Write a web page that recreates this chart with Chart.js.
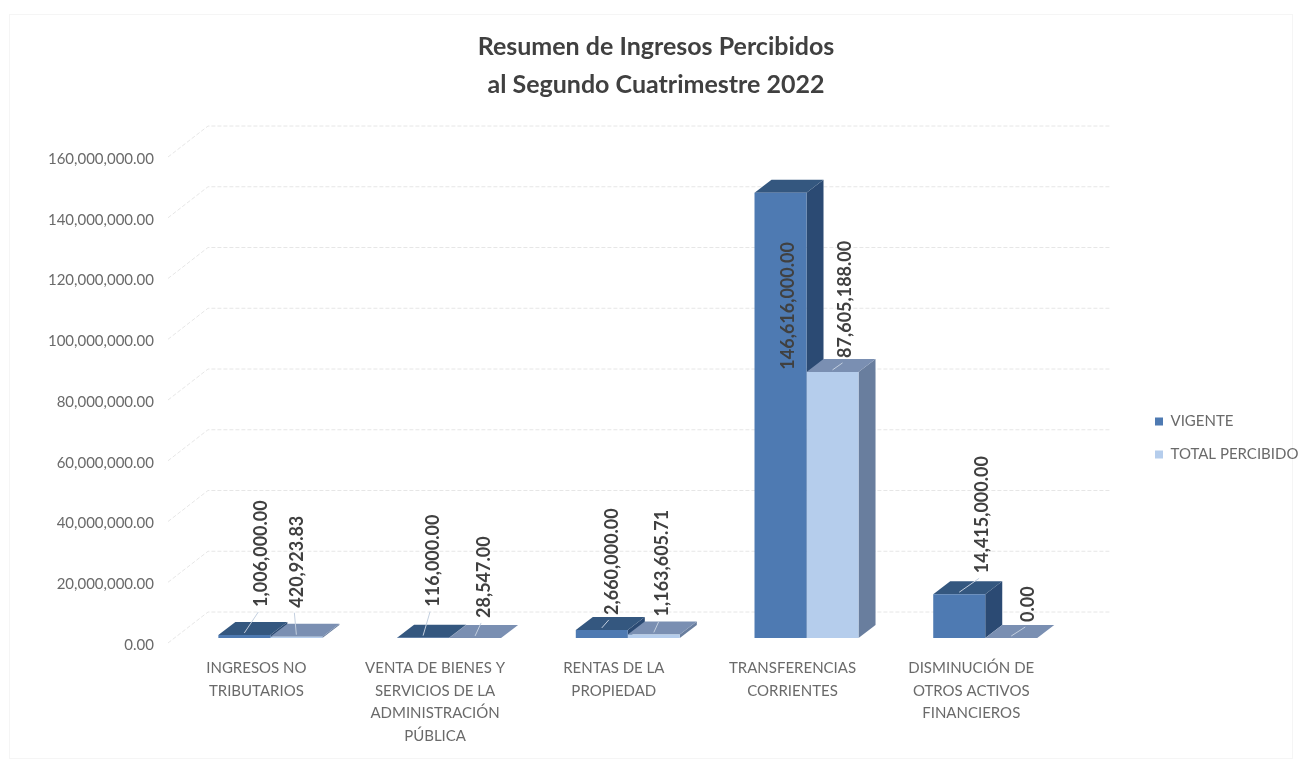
<!DOCTYPE html>
<html>
<head>
<meta charset="utf-8">
<title>Resumen de Ingresos Percibidos</title>
<script src="https://cdn.jsdelivr.net/npm/chart.js@4/dist/chart.umd.min.js"></script>
<style>
    html, body { margin: 0; padding: 0; background: #ffffff; }
    canvas { display: block; }
</style>
</head>
<body>
<canvas id="mainChart" width="1307" height="762"></canvas>
<script>
const categories = [
    ['INGRESOS NO', 'TRIBUTARIOS'],
    ['VENTA DE BIENES Y', 'SERVICIOS DE LA', 'ADMINISTRACIÓN', 'PÚBLICA'],
    ['RENTAS DE LA', 'PROPIEDAD'],
    ['TRANSFERENCIAS', 'CORRIENTES'],
    ['DISMINUCIÓN DE', 'OTROS ACTIVOS', 'FINANCIEROS']
];
const vigente = [1006000, 116000, 2660000, 146616000, 14415000];
const totalPercibido = [420923.83, 28547, 1163605.71, 87605188, 0];
const titleLines = ['Resumen de Ingresos Percibidos', 'al Segundo Cuatrimestre 2022'];

// 3D look of the bars and walls
const DEPTH_X = 17, DEPTH_Y = 13;
const WALL_X = 40, WALL_Y = 26;
const faceColors = [
    { top: '#34577f', side: '#2b4a73' },
    { top: '#7a8fb2', side: '#697e9e' }
];

// nudges of the value labels from the top of their bar: [dx, dy of label bottom]
const labelNudges = [
    [[17, -28], [10, -31], [10, -15], [8, 177], [23, -21]],
    [[1, -29], [9, -20], [8, -18], [13, -14], [17, -16]]
];

function money(val) {
    return val.toLocaleString('en-US', { minimumFractionDigits: 2, maximumFractionDigits: 2 });
}

const backdrop = {
    id: 'backdrop',
    beforeDraw(chart) {
        const ctx = chart.ctx;
        ctx.save();
        ctx.strokeStyle = '#f5f5f5';
        ctx.strokeRect(9.5, 14.5, 1283, 744);
        ctx.restore();
    },
    afterLayout(chart) {
        // legend and title do not sit where the layout would put them
        const lg = chart.legend;
        const w = lg.right - lg.left;
        lg.left = 1137; lg.right = lg.left + w;
        lg.top += 57; lg.bottom += 57;
        chart.titleBlock.left += 23;
        chart.titleBlock.right += 23;
    },
    beforeDatasetsDraw(chart) {
        const ctx = chart.ctx;
        const y = chart.scales.y;
        const left = chart.chartArea.left - 13;

        // walls
        ctx.save();
        ctx.strokeStyle = '#e6e6e6';
        ctx.lineWidth = 1;
        ctx.setLineDash([4, 2]);
        y.ticks.forEach(t => {
            const py = y.getPixelForValue(t.value);
            ctx.beginPath();
            ctx.moveTo(left, py + 5);
            ctx.lineTo(left + WALL_X, py - WALL_Y);
            ctx.lineTo(1110, py - WALL_Y);
            ctx.stroke();
        });
        ctx.restore();

        // top and side faces, the fronts are the real bars drawn after this
        chart.data.datasets.forEach((ds, d) => {
            chart.getDatasetMeta(d).data.forEach(bar => {
                const x0 = bar.x - bar.width / 2, x1 = bar.x + bar.width / 2;
                ctx.fillStyle = faceColors[d].side;
                ctx.beginPath();
                ctx.moveTo(x1, bar.y);
                ctx.lineTo(x1 + DEPTH_X, bar.y - DEPTH_Y);
                ctx.lineTo(x1 + DEPTH_X, bar.base - DEPTH_Y);
                ctx.lineTo(x1, bar.base);
                ctx.closePath();
                ctx.fill();

                ctx.fillStyle = faceColors[d].top;
                ctx.beginPath();
                ctx.moveTo(x0, bar.y);
                ctx.lineTo(x1, bar.y);
                ctx.lineTo(x1 + DEPTH_X, bar.y - DEPTH_Y);
                ctx.lineTo(x0 + DEPTH_X, bar.y - DEPTH_Y);
                ctx.closePath();
                ctx.fill();
            });
        });
    },
    afterDatasetsDraw(chart) {
        const ctx = chart.ctx;
        chart.data.datasets.forEach((ds, d) => {
            chart.getDatasetMeta(d).data.forEach((bar, i) => {
                const lx = bar.x + labelNudges[d][i][0];
                const ly = bar.y + labelNudges[d][i][1];

                // leader line, not for the label that sits inside its bar
                if (ly < bar.y) {
                    ctx.save();
                    ctx.strokeStyle = '#c3cfdf';
                    ctx.lineWidth = 1;
                    ctx.beginPath();
                    ctx.moveTo(bar.x, bar.y - 2);
                    ctx.lineTo(lx - 3, ly + 5);
                    ctx.stroke();
                    ctx.restore();
                }

                ctx.save();
                ctx.translate(lx, ly);
                ctx.rotate(-Math.PI / 2);
                ctx.font = 'bold 18px Lato';
                ctx.fillStyle = '#404040';
                ctx.textAlign = 'left';
                ctx.textBaseline = 'middle';
                ctx.fillText(money(ds.data[i]), 0, 0);
                ctx.restore();
            });
        });
    }
};

new Chart(document.getElementById('mainChart'), {
    type: 'bar',
    data: {
        labels: categories,
        datasets: [
            { label: 'VIGENTE', data: vigente, backgroundColor: '#4e7ab2' },
            { label: 'TOTAL PERCIBIDO', data: totalPercibido, backgroundColor: '#b5cdec' }
        ]
    },
    plugins: [backdrop],
    options: {
        responsive: false,
        animation: false,
        layout: { padding: { left: 20, right: 61, top: 0, bottom: 0 } },
        datasets: { bar: { categoryPercentage: 0.582, barPercentage: 1, borderWidth: 0 } },
        plugins: {
            title: {
                display: true,
                text: titleLines,
                color: '#404040',
                font: { family: 'Lato', size: 25, weight: 'bold', lineHeight: 1.52 },
                padding: { top: 28, bottom: 48 }
            },
            legend: {
                position: 'right',
                labels: {
                    boxWidth: 8,
                    boxHeight: 8,
                    padding: 18,
                    color: '#6a6a6a',
                    font: { family: 'Lato', size: 15 }
                }
            },
            tooltip: { enabled: false }
        },
        scales: {
            x: {
                grid: { display: false },
                border: { display: false },
                afterFit(scale) { scale.height = 124; },
                ticks: {
                    autoSkip: false,
                    maxRotation: 0,
                    padding: 11,
                    labelOffset: -14,
                    color: '#6a6a6a',
                    font: { family: 'Lato', size: 15, lineHeight: 1.5 }
                }
            },
            y: {
                min: 0,
                max: 160000000,
                grid: { display: false, drawTicks: false },
                border: { display: false },
                afterFit(scale) { scale.width = 161; },
                ticks: {
                    stepSize: 20000000,
                    padding: 27,
                    labelOffset: 7,
                    color: '#6a6a6a',
                    font: { family: 'Lato', size: 15 },
                    callback: val => money(val)
                }
            }
        }
    }
});
</script>
</body>
</html>
